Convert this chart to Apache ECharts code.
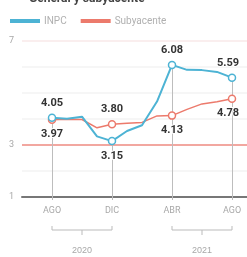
<!DOCTYPE html>
<html>
<head>
<meta charset="utf-8">
<script src="https://cdn.jsdelivr.net/npm/echarts@6/dist/echarts.min.js"></script>
<style>
html, body { margin: 0; padding: 0; background: #fff; }
#chart { width: 247px; height: 257px; }
</style>
</head>
<body>
<div id="chart"></div>
<script>
// meses de ago-2020 a ago-2021
var meses = ['AGO', 'SEP', 'OCT', 'NOV', 'DIC', 'ENE', 'FEB', 'MAR', 'ABR', 'MAY', 'JUN', 'JUL', 'AGO'];
var inpc = [4.05, 4.01, 4.09, 3.33, 3.15, 3.54, 3.76, 4.67, 6.08, 5.89, 5.88, 5.81, 5.59];
var subyacente = [3.97, 3.99, 3.98, 3.66, 3.80, 3.84, 3.87, 4.12, 4.13, 4.37, 4.58, 4.66, 4.78];
var marcados = [0, 4, 8, 12];
var posInpc = ['top', 'bottom', 'top', 'top'];
var posSub = ['bottom', 'top', 'bottom', 'bottom'];
var anios = ['2020', '2021'];
var aniosDesde = [0, 8];
var aniosHasta = [4, 12];
var yTicks = [1, 2, 3, 4, 5, 6, 7];
var yEtiquetas = [1, 3, 7];
var meta = [3];

var pad = 2;
var cats = ['', ''].concat(meses, ['']);
var azul = '#4db3d4', rojo = '#ec7a6c', gris = '#a8a8a8';

function puntos(vals, pos) {
    var res = [null, null];
    vals.forEach(function (v, i) {
        var k = marcados.indexOf(i);
        if (k >= 0) {
            res.push({
                value: v,
                symbol: 'circle',
                label: {show: true, position: pos[k], offset: i === vals.length - 1 ? [-4, 0] : [0, 0]}
            });
        } else {
            res.push({value: v, symbol: 'none'});
        }
    });
    res.push(null);
    return res;
}

var etiqueta = {
    show: false,
    fontFamily: 'Liberation Sans Narrow, Roboto, sans-serif',
    fontWeight: 'bold',
    fontSize: 11,
    color: '#333',
    distance: 5,
    textBorderColor: '#fff',
    textBorderWidth: 2,
    formatter: function (p) { return p.value.toFixed(2); }
};

// la linea de meta (3%) va en rojo, las demas muy claras
var coloresRejilla = yTicks.map(function (v) {
    return meta.indexOf(v) >= 0 ? '#ee8a80' : (v === yTicks[yTicks.length - 1] ? '#f8e8e8' : '#f3f3f3');
});

var myChart = echarts.init(document.getElementById('chart'));
var opcion = {
    animation: false,
    textStyle: {fontFamily: 'Roboto, sans-serif'},
    title: {
        text: 'General y subyacente',
        left: 24, top: -12,
        textStyle: {fontSize: 12, fontWeight: 'bold', color: '#444'}
    },
    legend: {
        left: 5, top: 11,
        icon: 'rect', itemWidth: 28, itemHeight: 2, itemGap: 14,
        textStyle: {fontSize: 10, color: '#b0b0b0'},
        data: [
            {name: 'INPC', itemStyle: {color: azul}},
            {name: 'Subyacente', itemStyle: {color: rojo}}
        ]
    },
    grid: {left: 22, right: 0, top: 41, bottom: 60},
    xAxis: {
        type: 'category',
        boundaryGap: false,
        data: cats,
        axisLine: {lineStyle: {color: '#777', width: 2}},
        axisTick: {
            show: true, length: 3, lineStyle: {color: '#bbb'},
            interval: function (idx) { return marcados.indexOf(idx - pad) >= 0; }
        },
        axisLabel: {
            color: gris, fontSize: 9, margin: 9,
            interval: function (idx) { return marcados.indexOf(idx - pad) >= 0; }
        },
        splitLine: {show: false}
    },
    yAxis: {
        type: 'value',
        min: yTicks[0], max: yTicks[yTicks.length - 1], interval: 1,
        axisLine: {show: false},
        axisTick: {show: false},
        axisLabel: {
            color: gris, fontSize: 9, margin: 8,
            formatter: function (v) { return yEtiquetas.indexOf(v) >= 0 ? v : ''; }
        },
        splitLine: {lineStyle: {color: coloresRejilla, width: 1.5}}
    },
    series: [
        {
            name: 'Subyacente',
            type: 'line',
            data: puntos(subyacente, posSub),
            lineStyle: {width: 1.5, color: rojo},
            symbolSize: 7,
            itemStyle: {color: '#fff', borderColor: rojo, borderWidth: 1.5},
            label: etiqueta,
            z: 3
        },
        {
            name: 'INPC',
            type: 'line',
            data: puntos(inpc, posInpc),
            lineStyle: {width: 2, color: azul},
            symbolSize: 7,
            itemStyle: {color: '#fff', borderColor: azul, borderWidth: 1.5},
            label: etiqueta,
            z: 4,
            markLine: {
                silent: true, symbol: 'none',
                label: {show: false},
                lineStyle: {color: '#bdbdbd', width: 1, type: 'solid'},
                z: 1,
                data: marcados.map(function (i) {
                    return [{coord: [i + pad, inpc[i]]}, {coord: [i + pad, 1]}];
                })
            }
        }
    ]
};
myChart.setOption(opcion);

// llaves de los anios bajo el eje
var yLlave = 230;
var graficos = [];
anios.forEach(function (a, k) {
    var x1 = myChart.convertToPixel({gridIndex: 0}, [aniosDesde[k] + pad, 1])[0];
    var x2 = myChart.convertToPixel({gridIndex: 0}, [aniosHasta[k] + pad, 1])[0];
    var xm = (x1 + x2) / 2;
    graficos.push({
        type: 'polyline',
        shape: {points: [[x1, yLlave - 4], [x1, yLlave], [x2, yLlave], [x2, yLlave - 4]]},
        style: {stroke: '#bbb', lineWidth: 1, fill: null}
    });
    graficos.push({
        type: 'line',
        shape: {x1: xm, y1: yLlave, x2: xm, y2: yLlave + 5},
        style: {stroke: '#bbb', lineWidth: 1}
    });
    graficos.push({
        type: 'text',
        x: xm, y: yLlave + 21,
        style: {text: a, fill: gris, fontSize: 9, align: 'center', verticalAlign: 'middle'}
    });
});
myChart.setOption({graphic: graficos});
</script>
</body>
</html>
